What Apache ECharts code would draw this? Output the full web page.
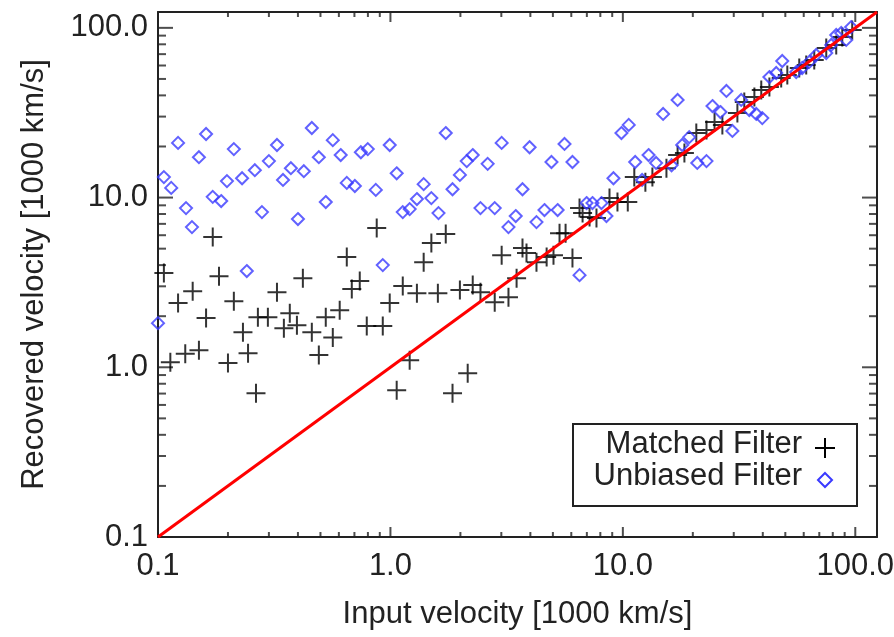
<!DOCTYPE html>
<html>
<head>
<meta charset="utf-8">
<script src="https://cdn.jsdelivr.net/npm/echarts@6/dist/echarts.min.js"></script>
<style>
  html, body { margin: 0; padding: 0; background: #fff; }
  #chart { width: 894px; height: 637px; }
</style>
</head>
<body>
<div id="chart"></div>
<script>
// axis range (log10 both ways)
const axisMin = 0.1
const axisMax = 124
const tickValues = [0.1, 1, 10, 100]
const tickLabels = ['0.1', '1.0', '10.0', '100.0']
const minorSteps = [2, 3, 4, 5, 6, 7, 8, 9]

// [input, recovered] in 1000 km/s
const matched = [
  [0.106, 3.59], [0.172, 5.85], [0.183, 3.44], [0.141, 2.81], [0.122, 2.39],
  [0.212, 2.45], [0.325, 2.77], [0.42, 3.35], [0.161, 1.95], [0.269, 1.97],
  [0.297, 1.97], [0.369, 2.08], [0.348, 1.7], [0.396, 1.77], [0.232, 1.61],
  [0.113, 1.07], [0.131, 1.2], [0.15, 1.26], [0.244, 1.21], [0.2, 1.06],
  [0.264, 0.703], [0.459, 1.61], [0.527, 1.97], [0.605, 2.17], [0.565, 1.5],
  [0.492, 1.18], [0.791, 1.75], [0.927, 1.75], [0.993, 2.39], [0.873, 6.61],
  [1.5, 5.39], [1.73, 6.09], [0.649, 4.46], [1.39, 4.16], [0.738, 3.22],
  [0.682, 2.89], [1.13, 3.01], [1.3, 2.73], [1.6, 2.73], [1.99, 2.85],
  [2.26, 3.05], [2.44, 2.77], [2.81, 2.42], [3.22, 2.59], [3.01, 4.58],
  [3.7, 5.04], [3.85, 4.71], [4.25, 4.16], [4.7, 4.46], [5.03, 4.58],
  [6.07, 4.4], [3.49, 3.35], [5.34, 6.17], [5.67, 6.17], [1.21, 1.1],
  [1.064, 0.733], [2.15, 0.923], [1.85, 0.703],
  [6.51, 8.67], [6.71, 8.1], [7.19, 7.67], [7.7, 7.57], [8.76, 9.93],
  [9.48, 9.41], [10.5, 9.41], [11.2, 13.2], [12.5, 12.3], [13.4, 13.2],
  [15.4, 14.9], [17.2, 17.8], [18.4, 18.3], [20.7, 24.0], [22.9, 25.0],
  [24.8, 27.9], [26.8, 26.8], [31.1, 31.5], [33.3, 36.6], [36.8, 39.1],
  [39.4, 43.0], [42.7, 44.8], [48.0, 50.6], [51.0, 52.8], [57.4, 58.0],
  [61.5, 60.4], [66.6, 64.7], [75.0, 76.1], [82.8, 79.3], [87.9, 88.4],
  [97.0, 97.2]
]

const unbiased = [
  [0.161, 23.7], [0.122, 21.0], [0.212, 19.3], [0.325, 20.4], [0.15, 17.3],
  [0.3, 16.4], [0.261, 14.5], [0.373, 14.9], [0.424, 14.3], [0.106, 13.2],
  [0.114, 11.4], [0.198, 12.5], [0.23, 13.0], [0.345, 12.7], [0.172, 10.1],
  [0.187, 9.54], [0.132, 8.67], [0.28, 8.21], [0.4, 7.47], [0.14, 6.7],
  [0.241, 3.69], [0.1, 1.82], [0.459, 25.7], [0.565, 21.8], [0.492, 17.3],
  [0.611, 17.8], [0.746, 18.5], [0.799, 19.3], [0.993, 20.4], [0.649, 12.2],
  [0.703, 11.7], [0.865, 11.1], [1.064, 13.9], [0.527, 9.41], [1.73, 24.0],
  [1.39, 12.0], [1.3, 9.8], [1.5, 9.93], [1.21, 8.55], [1.13, 8.21],
  [1.61, 8.1], [1.85, 11.2], [1.99, 13.6], [2.13, 16.4], [2.26, 17.8],
  [2.62, 15.8], [3.01, 21.0], [3.97, 19.8], [4.93, 16.2], [5.61, 20.7],
  [6.07, 16.2], [3.7, 11.2], [2.44, 8.67], [2.81, 8.67], [3.22, 6.7],
  [3.46, 7.78], [4.25, 7.17], [4.6, 8.44], [5.24, 8.44], [0.927, 4.0],
  [6.51, 3.49],
  [6.98, 9.28], [7.4, 9.28], [8.09, 9.28], [8.5, 7.78], [9.11, 13.0],
  [11.3, 16.2], [12.1, 12.7], [12.9, 17.8], [13.9, 16.0], [16.2, 15.5],
  [18.0, 20.4], [19.3, 22.7], [20.9, 16.0], [22.9, 16.4], [10.6, 26.8],
  [9.86, 24.0], [14.9, 31.1], [17.2, 37.6], [27.9, 42.5], [24.3, 34.6],
  [26.3, 31.9], [32.3, 37.6], [35.0, 32.8], [37.5, 31.1], [39.8, 29.4],
  [29.6, 24.7], [42.7, 51.3], [45.7, 54.2], [48.5, 63.8], [55.7, 54.9],
  [59.1, 58.0], [63.4, 63.0], [67.9, 69.2], [75.0, 71.1], [78.8, 79.3],
  [82.8, 90.8], [87.0, 93.3], [91.4, 84.9], [96.0, 101]
]

const identity = [[axisMin, axisMin], [axisMax, axisMax]]

const font = 'Liberation Sans, Arial, sans-serif'
const ink = '#222'
const blue = '#3a3aff'
const plusPath = 'path://M10,0L10,20M0,10L20,10'

const fmt = (v) => {
  const e = Math.log10(v)
  if (Math.abs(e - Math.round(e)) > 1e-6) return ''
  const i = tickValues.findIndex((t) => Math.abs(Math.log10(t) - e) < 1e-6)
  return i >= 0 ? tickLabels[i] : ''
}

// inward ticks on all four sides: little rect symbols sitting on the frame
const tickMarks = []
const allTicks = tickValues.map((v) => [v, true])
tickValues.slice(0, 3).forEach((d) => minorSteps.forEach((m) => allTicks.push([d * m, false])))
allTicks.forEach(([v, major]) => {
  const lx = major ? 10 : 5
  const ly = major ? 15 : 8
  tickMarks.push(
    { value: [v, axisMin], symbolSize: [2, lx], symbolOffset: [0, -lx / 2] },
    { value: [v, axisMax], symbolSize: [2, lx], symbolOffset: [0, lx / 2] },
    { value: [axisMin, v], symbolSize: [ly, 2], symbolOffset: [ly / 2, 0] },
    { value: [axisMax, v], symbolSize: [ly, 2], symbolOffset: [-ly / 2, 0] },
  )
})

const baseAxis = {
  type: 'log',
  logBase: 10,
  min: axisMin,
  max: axisMax,
  axisLine: { lineStyle: { color: ink, width: 2 } },
  axisTick: { show: false },
  splitLine: { show: false },
}

const seg = (x1, y1, x2, y2, color) => ({
  type: 'line',
  shape: { x1, y1, x2, y2 },
  style: { stroke: color || ink, lineWidth: 2 },
})

const chart = echarts.init(document.getElementById('chart'))
chart.setOption({
  backgroundColor: '#fff',
  animation: false,
  grid: { left: 158, right: 17, top: 12, bottom: 100, outerBoundsMode: 'none' },
  xAxis: [
    {
      ...baseAxis,
      position: 'bottom',
      axisLabel: { formatter: fmt, fontSize: 31, color: ink, fontFamily: font, margin: 14 },
      name: 'Input velocity [1000 km/s]',
      nameLocation: 'middle',
      nameGap: 62,
      nameTextStyle: { fontSize: 31, color: ink, fontFamily: font },
    },
    { ...baseAxis, position: 'top', axisLabel: { show: false } },
  ],
  yAxis: [
    {
      ...baseAxis,
      position: 'left',
      axisLabel: { formatter: fmt, fontSize: 31, color: ink, fontFamily: font, margin: 10 },
      name: 'Recovered velocity [1000 km/s]',
      nameLocation: 'middle',
      nameGap: 108,
      nameTextStyle: { fontSize: 31, color: ink, fontFamily: font },
    },
    { ...baseAxis, position: 'right', axisLabel: { show: false } },
  ],
  series: [
    {
      type: 'scatter',
      data: tickMarks,
      symbol: 'rect',
      itemStyle: { color: ink },
      clip: false,
      silent: true,
      z: 2,
    },
    {
      name: 'Matched Filter',
      type: 'scatter',
      data: matched,
      symbol: plusPath,
      symbolSize: 19,
      itemStyle: { color: '#000', borderColor: '#000', borderWidth: 2 },
      z: 3,
    },
    {
      name: 'Unbiased Filter',
      type: 'scatter',
      data: unbiased,
      symbol: 'diamond',
      symbolSize: 12,
      itemStyle: { color: 'transparent', borderColor: blue, borderWidth: 2 },
      z: 4,
    },
    {
      type: 'line',
      data: identity,
      showSymbol: false,
      lineStyle: { color: '#ff0000', width: 3 },
      z: 5,
    },
  ],
  graphic: [
    {
      type: 'group',
      z: 100,
      children: [
        {
          type: 'rect',
          shape: { x: 573, y: 424, width: 284, height: 82 },
          style: { fill: '#fff', stroke: ink, lineWidth: 2 },
        },
        {
          type: 'text',
          style: { x: 802, y: 444, text: 'Matched Filter', fontSize: 31, fontFamily: font, fill: ink, align: 'right', verticalAlign: 'middle' },
        },
        {
          type: 'text',
          style: { x: 802, y: 476, text: 'Unbiased Filter', fontSize: 31, fontFamily: font, fill: ink, align: 'right', verticalAlign: 'middle' },
        },
        seg(825, 438, 825, 458, '#000'),
        seg(815, 448, 835, 448, '#000'),
        {
          type: 'polygon',
          shape: { points: [[825, 473], [832, 480], [825, 487], [818, 480]] },
          style: { stroke: blue, lineWidth: 2, fill: 'transparent' },
        },
      ],
    },
  ],
})
</script>
</body>
</html>
